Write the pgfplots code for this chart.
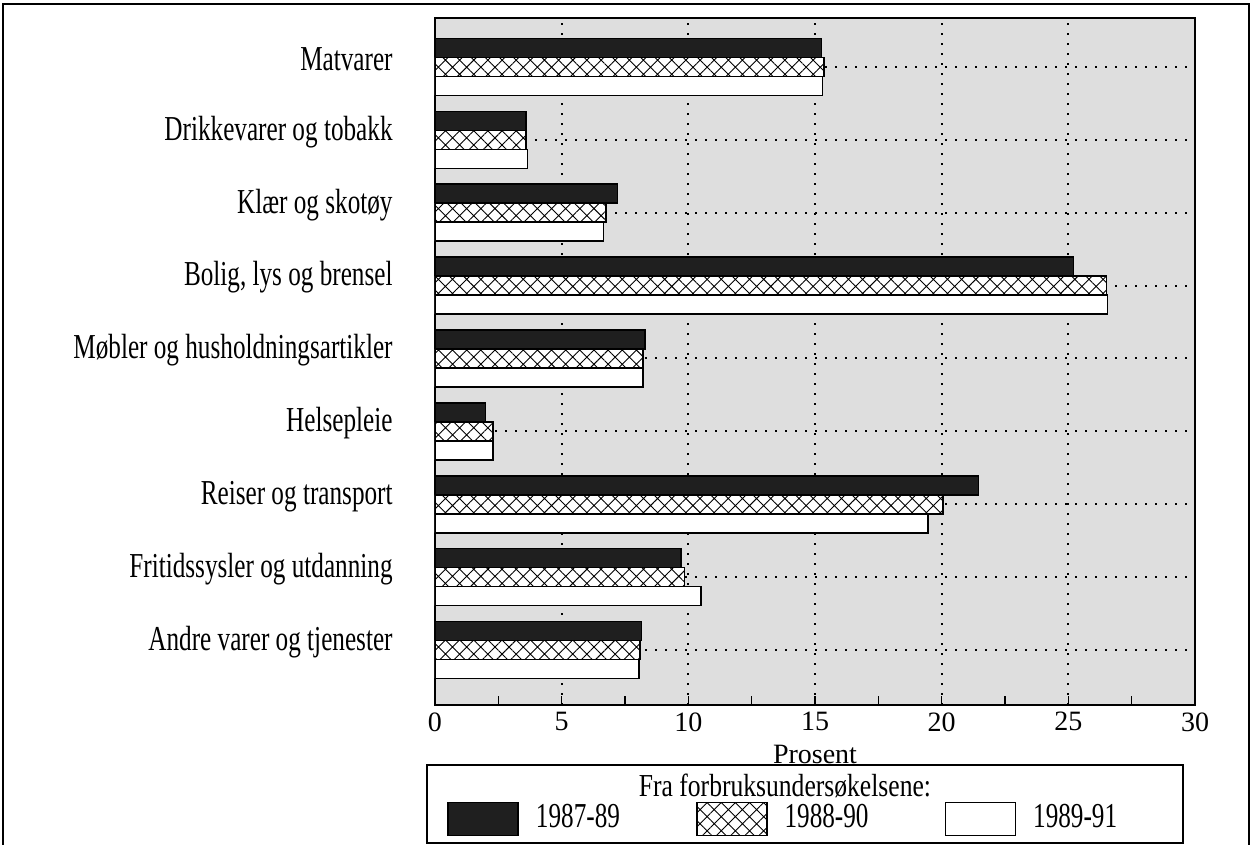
\documentclass[border=0pt]{standalone}
\usepackage{fontspec}
\setmainfont{Liberation Serif}[FakeStretch=0.72]
\newfontfamily\plainserif{Liberation Serif}
\newfontfamily\titleserif{Liberation Serif}[FakeStretch=0.8]
\usepackage{pgfplots}
\pgfplotsset{compat=1.18}
\usetikzlibrary{patterns.meta}

\pgfplotsset{
  swatch/.style={legend image code/.code={\draw[##1] (0pt,-8.25pt) rectangle (35pt,8.25pt);}},
}

\begin{document}
\fontsize{17.5}{21}\selectfont
\begin{tikzpicture}
% page = 1252 x 845 px at 0.5pt per px, axis corner at px (435,705)
\path[use as bounding box] (-217.5pt,-70pt) rectangle (408.5pt,352.5pt);
\begin{axis}[
  scale only axis,
  width=380pt, height=343.5pt,
  xbar, bar width=9.5pt,
  xmin=0, xmax=30,
  ymin=-0.755, ymax=8.672,
  xtick={0,5,...,30},
  minor x tick num=1,
  ytick={0,...,8},
  yticklabels={Andre varer og tjenester, Fritidssysler og utdanning, Reiser og transport, Helsepleie, Møbler og husholdningsartikler, {Bolig, lys og brensel}, Klær og skotøy, Drikkevarer og tobakk, Matvarer},
  tick align=inside,
  xtick pos=bottom, ytick pos=left,
  major tick length=4.5pt, minor tick length=4.5pt,
  tick style={black, line width=0.8pt},
  axis line style={line width=1.4pt},
  axis background/.style={fill=black!13},
  xmajorgrids, ymajorgrids,
  grid style={black, line width=1pt, dash pattern=on 1pt off 4pt},
  /pgf/number format/assume math mode=true,
  xticklabel style={font=\plainserif\fontsize{14}{16}\selectfont, inner sep=0pt, yshift=-3.5pt},
  yticklabel style={anchor=east, inner sep=0pt, xshift=-21pt, yshift=4pt},
  xlabel={Prosent},
  every axis x label/.style={at={(rel axis cs:0.5,0)}, anchor=center, yshift=-24.5pt,
    font=\plainserif\fontsize{14}{16}\selectfont},
  legend columns=3,
  legend style={at={(rel axis cs:0.0158,-0.1659)}, anchor=west, draw=none, fill=none,
    inner sep=0pt, nodes={inner xsep=0pt}, font=\fontsize{17.5}{21}\selectfont,
    /tikz/every odd column/.append style={column sep=8.5pt},
    /tikz/every even column/.append style={column sep=38pt}},
]
% 1987-89
\addplot[swatch, fill=black!88, draw=black, line width=0.8pt, bar shift=9.5pt] coordinates {
  (8.15,0) (9.7,1) (21.45,2) (2.0,3) (8.3,4) (25.2,5) (7.2,6) (3.6,7) (15.25,8)
};
% 1988-90
\addplot[swatch, fill=white, draw=black, line width=0.8pt, bar shift=0pt,
  postaction={pattern={Hatch[angle=45,distance=5pt,line width=0.45pt]}}] coordinates {
  (8.1,0) (9.85,1) (20.05,2) (2.3,3) (8.2,4) (26.5,5) (6.75,6) (3.6,7) (15.35,8)
};
% 1989-91
\addplot[swatch, fill=white, draw=black, line width=0.8pt, bar shift=-9.5pt] coordinates {
  (8.05,0) (10.5,1) (19.45,2) (2.3,3) (8.2,4) (26.55,5) (6.65,6) (3.65,7) (15.3,8)
};
\legend{1987-89, 1988-90, 1989-91}
\end{axis}
% outer frame
\draw[line width=1.2pt] (-216pt,-70pt) |- (407pt,350.5pt) -- (407pt,-70pt);
% legend box with its title
\draw[line width=1.2pt] (-4pt,-30pt) rectangle (374pt,-69pt);
\node[font=\titleserif\fontsize{16}{19}\selectfont] at (175pt,-40.5pt) {Fra forbruksundersøkelsene:};
\end{tikzpicture}
\end{document}
